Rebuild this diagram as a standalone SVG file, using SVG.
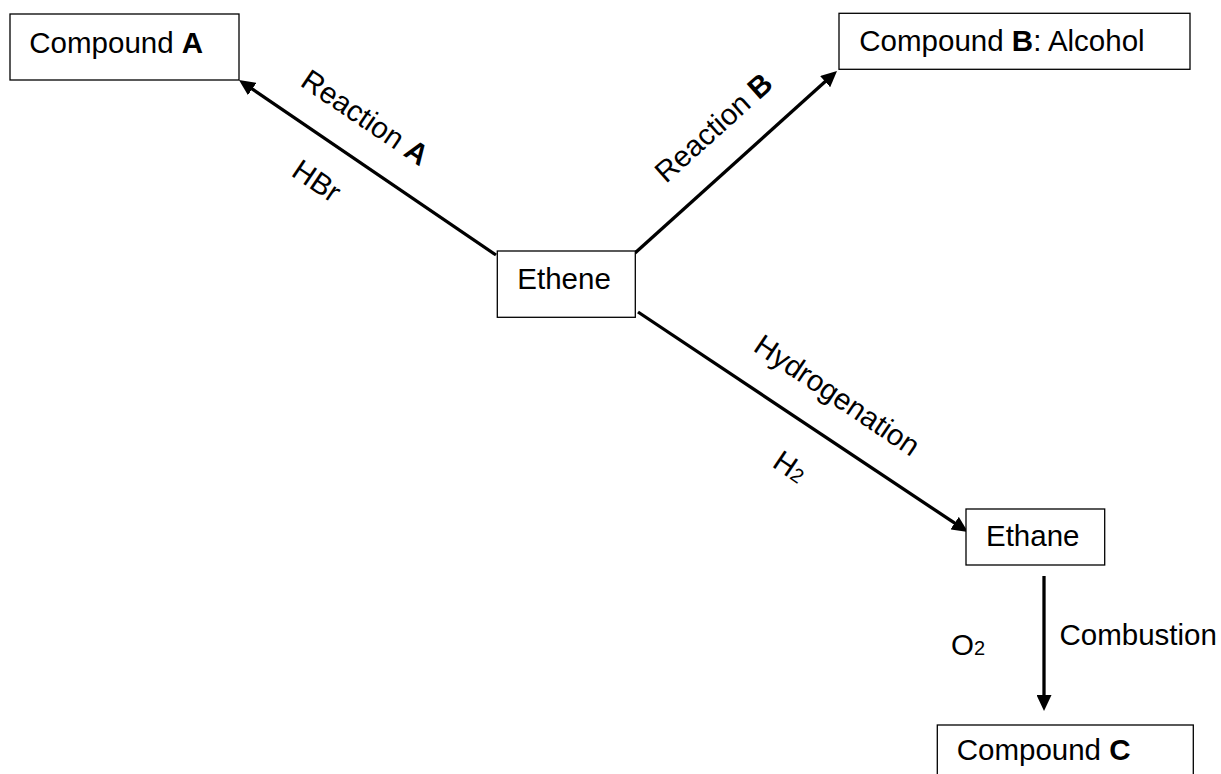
<svg xmlns="http://www.w3.org/2000/svg" width="1221" height="774" viewBox="0 0 1221 774">
<defs>
<style>
.box{fill:#fff;stroke:#000;stroke-width:1.3}
.t{font-family:"Liberation Sans",Arial,sans-serif;font-size:29.5px;fill:#000}
.b{font-weight:bold}
.sub{font-size:20px}
.c{fill:none;stroke:#000;stroke-width:3.3;marker-end:url(#ah)}
</style>
<marker id="ah" markerUnits="userSpaceOnUse" viewBox="0 0 16 15" refX="11" refY="7.5" markerWidth="16" markerHeight="15" orient="auto">
<path d="M0,0 L16,7.5 L0,15 z" fill="#000"/>
</marker>
</defs>
<rect width="1221" height="774" fill="#fff"/>
<g id="connectors">
<line class="c" x1="496" y1="255" x2="243.1" y2="82.8"/>
<line class="c" x1="635" y1="253" x2="833.3" y2="74.3"/>
<line class="c" x1="638" y1="312" x2="963.8" y2="529.2"/>
<line class="c" x1="1044" y1="576" x2="1044" y2="706"/>
</g>
<g id="labels">
<text class="t" transform="translate(299,85) rotate(34)">Reaction <tspan class="b">A</tspan></text>
<text class="t" transform="translate(290,175) rotate(34)">HBr</text>
<text class="t" transform="translate(666,184) rotate(-42)">Reaction <tspan class="b">B</tspan></text>
<text class="t" transform="translate(752,350) rotate(34)">Hydrogenation</text>
<text class="t" transform="translate(771,466) rotate(34)">H<tspan class="sub">2</tspan></text>
<text class="t" x="951" y="654.5">O<tspan class="sub">2</tspan></text>
<text class="t" x="1059.5" y="645">Combustion</text>
</g>
<g id="compoundA">
<rect class="box" x="10" y="14" width="229" height="66"/>
<text class="t" x="29.3" y="53.3">Compound <tspan class="b">A</tspan></text>
</g>
<g id="compoundB">
<rect class="box" x="839" y="13.3" width="351" height="56"/>
<text class="t" x="859.3" y="51">Compound <tspan class="b">B</tspan>: Alcohol</text>
</g>
<g id="ethene">
<rect class="box" x="497.3" y="251" width="138" height="66.3"/>
<text class="t" x="517.3" y="289.3">Ethene</text>
</g>
<g id="ethane">
<rect class="box" x="966" y="509" width="138.7" height="56"/>
<text class="t" x="986" y="545.7">Ethane</text>
</g>
<g id="compoundC">
<rect class="box" x="937.3" y="725" width="256" height="70"/>
<text class="t" x="956.7" y="760">Compound <tspan class="b">C</tspan></text>
</g>
</svg>
